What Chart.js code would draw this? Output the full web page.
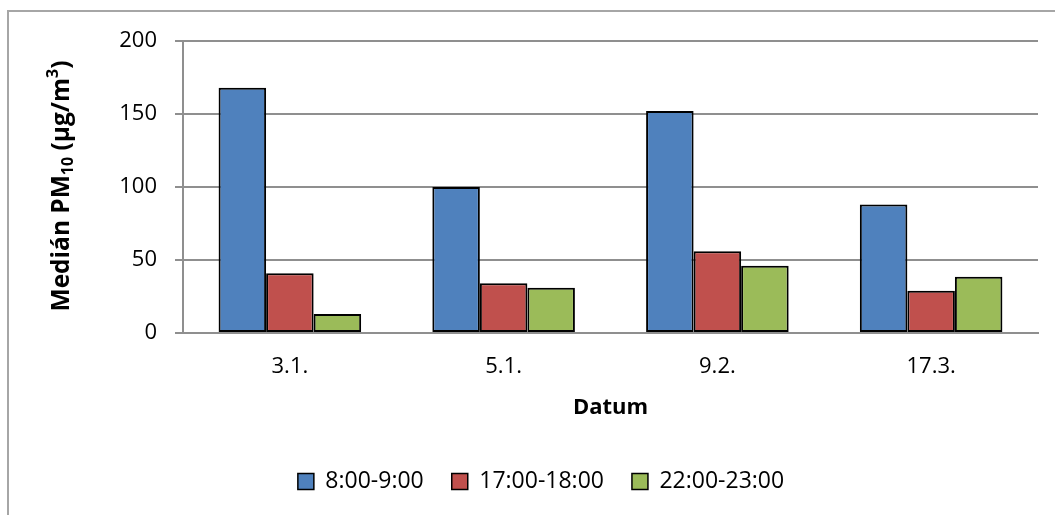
<!DOCTYPE html>
<html>
<head>
<meta charset="utf-8">
<script src="https://cdn.jsdelivr.net/npm/chart.js@4.4.1/dist/chart.umd.min.js"></script>
<style>
  html, body { margin: 0; padding: 0; background: #fff; }
  #wrap { position: relative; width: 1055px; height: 515px; overflow: hidden; }
  #frame { position: absolute; left: 7px; top: 10px; width: 1200px; height: 600px;
           border-left: 2px solid #a6a6a6; border-top: 2px solid #a6a6a6; box-sizing: border-box; }
  canvas { position: absolute; left: 0; top: 0; }
</style>
</head>
<body>
<div id="wrap">
  <div id="frame"></div>
  <canvas id="chart" width="1055" height="515"></canvas>
</div>
<script>
const dates = ["3.1.", "5.1.", "9.2.", "17.3."];
const morning = [168, 100, 152, 88];
const afternoon = [41, 34, 56, 29];
const evening = [13, 31, 46, 38.5];
const seriesNames = ["8:00-9:00", "17:00-18:00", "22:00-23:00"];
const yTicks = [0, 50, 100, 150, 200];

const FONT = "'Open Sans', sans-serif";
const gridColor = "#8f8f8f";

// y axis title with subscript and superscript, drawn rotated
const yTitlePlugin = {
  id: "yTitle",
  afterDraw(chart) {
    const ctx = chart.ctx;
    const parts = [
      { t: "Medián PM", size: 24.5, dy: 0 },
      { t: "10", size: 16, dy: 6 },
      { t: " (µg/m", size: 24.5, dy: 0 },
      { t: "3", size: 16, dy: -9 },
      { t: ")", size: 24.5, dy: 0 }
    ];
    ctx.save();
    let total = 0;
    parts.forEach(p => {
      ctx.font = "bold " + p.size + "px " + FONT;
      p.w = ctx.measureText(p.t).width;
      total += p.w;
    });
    const cx = 62, cy = 186;
    ctx.translate(cx, cy);
    ctx.rotate(-Math.PI / 2);
    ctx.fillStyle = "#000";
    ctx.textBaseline = "middle";
    let x = -total / 2;
    parts.forEach(p => {
      ctx.font = "bold " + p.size + "px " + FONT;
      ctx.fillText(p.t, x, p.dy);
      x += p.w;
    });
    ctx.restore();
  }
};

new Chart(document.getElementById("chart"), {
  type: "bar",
  data: {
    labels: dates,
    datasets: [
      { label: seriesNames[0], data: morning, backgroundColor: "#4f81bd" },
      { label: seriesNames[1], data: afternoon, backgroundColor: "#c0504d" },
      { label: seriesNames[2], data: evening, backgroundColor: "#9bbb59" }
    ]
  },
  options: {
    responsive: false,
    animation: false,
    layout: { padding: { left: 44, right: 17, top: 41, bottom: 12 } },
    datasets: {
      bar: {
        borderColor: "#000",
        borderWidth: 2,
        borderSkipped: false,
        categoryPercentage: 0.667,
        barPercentage: 1
      }
    },
    scales: {
      x: {
        afterFit(scale) { scale.height = 109; },
        grid: { display: false, drawTicks: false },
        border: { display: true, color: gridColor, width: 2 },
        ticks: { color: "#000", font: { family: FONT, size: 22 }, padding: 21 },
        title: { display: true, text: "Datum", color: "#000",
                 font: { family: FONT, size: 22, weight: "bold" }, padding: { top: 10, bottom: 21 } }
      },
      y: {
        min: 0,
        max: 200,
        afterFit(scale) { scale.width = 139; },
        afterBuildTicks(scale) { scale.ticks = yTicks.map(v => ({ value: v })); },
        grid: { color: gridColor, lineWidth: 2, tickLength: 8 },
        border: { display: true, color: gridColor, width: 2 },
        ticks: { color: "#000", font: { family: FONT, size: 22 }, padding: 18 }
      }
    },
    plugins: {
      legend: {
        position: "bottom",
        labels: {
          color: "#000",
          font: { family: FONT, size: 23 },
          boxWidth: 16,
          boxHeight: 16,
          padding: 28,
          generateLabels(chart) {
            return chart.data.datasets.map((ds, i) => ({
              text: ds.label,
              fillStyle: ds.backgroundColor,
              strokeStyle: "#000",
              lineWidth: 1.5,
              datasetIndex: i,
              hidden: false
            }));
          }
        }
      },
      tooltip: { enabled: false }
    }
  },
  plugins: [yTitlePlugin]
});
</script>
</body>
</html>
